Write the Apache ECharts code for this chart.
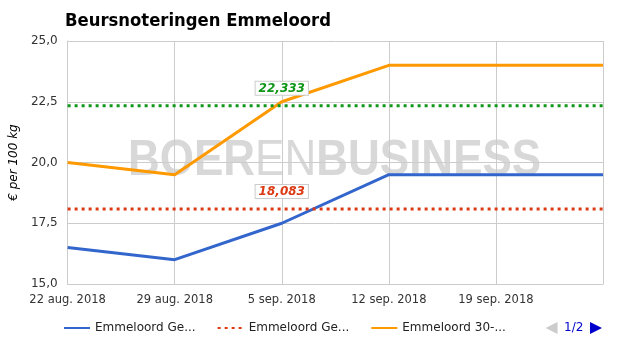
<!DOCTYPE html>
<html>
<head>
<meta charset="utf-8">
<script src="https://cdn.jsdelivr.net/npm/echarts@6/dist/echarts.min.js"></script>
<style>
  html, body { margin: 0; padding: 0; background: #fff; }
  #chart { width: 625px; height: 355px; }
</style>
</head>
<body>
<div id="chart"></div>
<script>
// week dates, last one has no label in the original
var dates = ['22 aug. 2018', '29 aug. 2018', '5 sep. 2018', '12 sep. 2018', '19 sep. 2018', '26 sep. 2018'];
var geel = [16.5, 16.0, 17.5, 19.5, 19.5, 19.5];
var geelGem = [18.083, 18.083, 18.083, 18.083, 18.083, 18.083];
var dertig = [20.0, 19.5, 22.5, 24.0, 24.0, 24.0];
var dertigGem = [22.333, 22.333, 22.333, 22.333, 22.333, 22.333];
var labelIdx = 2;

var fnt = 'DejaVu Sans';

function avgData(arr, color) {
  return arr.map(function (v, i) {
    if (i !== labelIdx) return v;
    return {
      value: v,
      label: {
        show: true,
        position: 'top',
        distance: 11,
        formatter: function (p) { return p.value.toFixed(3).replace('.', ','); },
        color: color,
        fontStyle: 'italic',
        fontWeight: 'bold',
        fontFamily: fnt,
        fontSize: 12,
        backgroundColor: '#fff',
        borderColor: '#ccc',
        borderWidth: 1,
        padding: [1, 3, 0, 3]
      }
    };
  });
}

// legend names get cut like the original
function shortName(name) {
  if (echarts.format && echarts.format.truncateText) {
    return echarts.format.truncateText(name, 106, '12px "DejaVu Sans"', '...', { maxIterations: 20 });
  }
  return name;
}

var chart = echarts.init(document.getElementById('chart'));
chart.setOption({
  animation: false,
  backgroundColor: '#fff',
  title: {
    text: 'Beursnoteringen Emmeloord',
    left: 60,
    top: 7,
    textStyle: { fontFamily: 'DejaVu Sans Condensed', fontWeight: 'bold', fontSize: 18.3, color: '#000' }
  },
  graphic: [{
    type: 'text',
    z: 0,
    x: 128,
    y: 136,
    scaleX: 0.88,
    style: {
      text: '{b|BOER}{n|EN}{b|BUSINESS}',
      fill: '#d8d8d8',
      rich: {
        b: { fontFamily: 'Liberation Sans', fontWeight: 'bold', fontSize: 50, fill: '#d8d8d8' },
        n: { fontFamily: 'Liberation Sans', fontWeight: 'normal', fontSize: 50, fill: '#d8d8d8' }
      }
    }
  }],
  grid: { left: 66, right: 22, top: 41, bottom: 71 },
  xAxis: {
    type: 'category',
    boundaryGap: false,
    data: dates,
    axisLine: { lineStyle: { color: '#ccc' } },
    axisTick: { show: false },
    axisLabel: {
      color: '#333', fontFamily: fnt, fontSize: 11.5, margin: 10, interval: 0,
      formatter: function (v, i) { return i === dates.length - 1 ? '' : v; }
    },
    splitLine: { show: true, lineStyle: { color: '#ccc' } }
  },
  yAxis: {
    type: 'value',
    min: 15, max: 25, interval: 2.5,
    name: '€ per 100 kg',
    nameLocation: 'middle',
    nameGap: 47,
    nameTextStyle: { fontFamily: fnt, fontStyle: 'italic', fontSize: 12, color: '#000' },
    axisLine: { show: true, lineStyle: { color: '#ccc' } },
    axisTick: { show: false },
    axisLabel: {
      color: '#333', fontFamily: fnt, fontSize: 12, margin: 10,
      formatter: function (v) { return v.toFixed(1).replace('.', ','); }
    },
    splitLine: { lineStyle: { color: '#ccc' } }
  },
  legend: {
    type: 'scroll',
    orient: 'horizontal',
    left: 58,
    width: 539,
    top: 317,
    itemWidth: 26,
    itemHeight: 12,
    itemGap: 21,
    itemStyle: { opacity: 0 },
    formatter: shortName,
    textStyle: { fontFamily: fnt, fontSize: 12, color: '#222' },
    pageIcons: {
      horizontal: ['path://M0,6L12,0L12,12z', 'path://M0,0L12,6L0,12z']
    },
    pageIconColor: '#0000cc',
    pageIconInactiveColor: '#ccc',
    pageIconSize: [12, 12],
    pageButtonGap: 30,
    pageButtonItemGap: 0,
    pageTextStyle: { color: '#0000cc', fontFamily: fnt, fontSize: 12 }
  },
  series: [
    {
      name: 'Emmeloord Geel vleesras',
      type: 'line',
      data: geel,
      showSymbol: false,
      color: '#3366cc',
      lineStyle: { width: 3, color: '#3366cc' }
    },
    {
      name: 'Emmeloord Gemiddelde geel',
      type: 'line',
      data: avgData(geelGem, '#dc3912'),
      symbolSize: 0,
      color: '#dc3912',
      lineStyle: { width: 3, color: '#dc3912', type: [3, 4] }
    },
    {
      name: 'Emmeloord 30-40 mm',
      type: 'line',
      data: dertig,
      showSymbol: false,
      color: '#ff9900',
      lineStyle: { width: 3, color: '#ff9900' }
    },
    {
      name: 'Emmeloord Gemiddelde 30-40',
      type: 'line',
      data: avgData(dertigGem, '#109618'),
      symbolSize: 0,
      color: '#109618',
      lineStyle: { width: 3, color: '#109618', type: [3, 4] }
    }
  ]
});
</script>
</body>
</html>
